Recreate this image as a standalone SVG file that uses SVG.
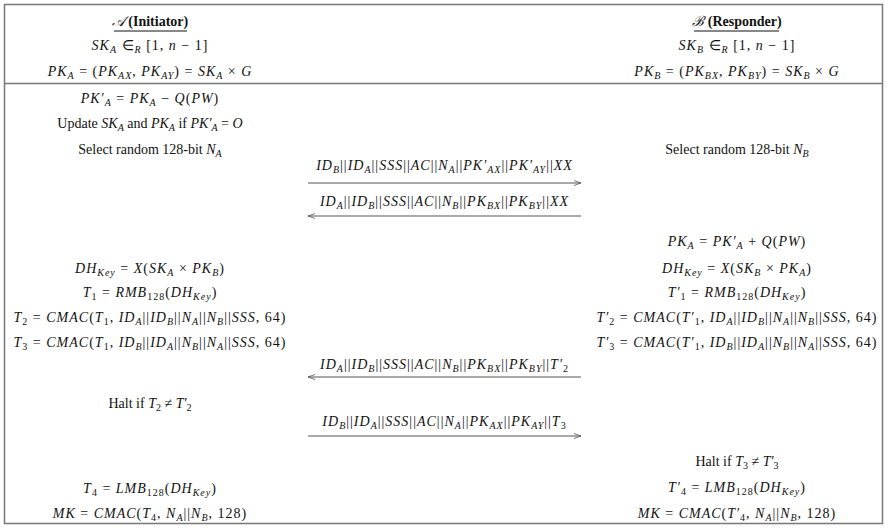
<svg xmlns="http://www.w3.org/2000/svg" width="889" height="531" viewBox="0 0 889 531">
<defs>
<style>
text{font-family:"Liberation Serif","Times New Roman",serif;font-size:14px;fill:#111;text-anchor:middle}
text.m{letter-spacing:1px}
.i{font-style:italic}
.bd{font-weight:bold}
.b{font-size:10px;baseline-shift:-3px}
.frame{fill:none;stroke:#777;stroke-width:1.5}
.msg{stroke:#555;stroke-width:1;fill:none}
</style>
<marker id="ah" markerWidth="8" markerHeight="6" refX="7" refY="3" orient="auto" markerUnits="userSpaceOnUse">
<path d="M0,0.5 L7,3 L0,5.5" fill="none" stroke="#555" stroke-width="0.8"/>
</marker>
</defs>
<rect width="889" height="531" fill="#fff"/>
<g id="frame">
<rect class="frame" x="4.5" y="4.5" width="878" height="519"/>
<line class="frame" x1="4.5" y1="83.5" x2="882.5" y2="83.5"/>
</g>
<g id="initiator">
<text x="150" y="26"><tspan class="i">𝒜</tspan> <tspan class="bd">(Initiator)</tspan></text>
<line x1="114" y1="31" x2="187" y2="31" stroke="#111" stroke-width="1"/>
<text class="m" x="150" y="50"><tspan class="i">SK</tspan><tspan class="b i">A</tspan> ∈<tspan class="b i">R</tspan> [1, <tspan class="i">n</tspan> − 1]</text>
<text class="m" x="150" y="76"><tspan class="i">PK</tspan><tspan class="b i">A</tspan> = (<tspan class="i">PK</tspan><tspan class="b i">AX</tspan>, <tspan class="i">PK</tspan><tspan class="b i">AY</tspan>) = <tspan class="i">SK</tspan><tspan class="b i">A</tspan> × <tspan class="i">G</tspan></text>
<text class="m" x="150" y="103"><tspan class="i">PK′</tspan><tspan class="b i">A</tspan> = <tspan class="i">PK</tspan><tspan class="b i">A</tspan> − <tspan class="i">Q</tspan>(<tspan class="i">PW</tspan>)</text>
<text x="150" y="128">Update <tspan class="i">SK</tspan><tspan class="b i">A</tspan> and <tspan class="i">PK</tspan><tspan class="b i">A</tspan> if <tspan class="i">PK′</tspan><tspan class="b i">A</tspan> = <tspan class="i">O</tspan></text>
<text x="150" y="154">Select random 128-bit <tspan class="i">N</tspan><tspan class="b i">A</tspan></text>
<text class="m" x="150" y="273"><tspan class="i">DH</tspan><tspan class="b i">Key</tspan> = <tspan class="i">X</tspan>(<tspan class="i">SK</tspan><tspan class="b i">A</tspan> × <tspan class="i">PK</tspan><tspan class="b i">B</tspan>)</text>
<text class="m" x="150" y="297"><tspan class="i">T</tspan><tspan class="b">1</tspan> = <tspan class="i">RMB</tspan><tspan class="b">128</tspan>(<tspan class="i">DH</tspan><tspan class="b i">Key</tspan>)</text>
<text class="m" x="150" y="322"><tspan class="i">T</tspan><tspan class="b">2</tspan> = <tspan class="i">CMAC</tspan>(<tspan class="i">T</tspan><tspan class="b">1</tspan>, <tspan class="i">ID</tspan><tspan class="b i">A</tspan>||<tspan class="i">ID</tspan><tspan class="b i">B</tspan>||<tspan class="i">N</tspan><tspan class="b i">A</tspan>||<tspan class="i">N</tspan><tspan class="b i">B</tspan>||<tspan class="i">SSS</tspan>, 64)</text>
<text class="m" x="150" y="347"><tspan class="i">T</tspan><tspan class="b">3</tspan> = <tspan class="i">CMAC</tspan>(<tspan class="i">T</tspan><tspan class="b">1</tspan>, <tspan class="i">ID</tspan><tspan class="b i">B</tspan>||<tspan class="i">ID</tspan><tspan class="b i">A</tspan>||<tspan class="i">N</tspan><tspan class="b i">B</tspan>||<tspan class="i">N</tspan><tspan class="b i">A</tspan>||<tspan class="i">SSS</tspan>, 64)</text>
<text x="150" y="408">Halt if <tspan class="i">T</tspan><tspan class="b">2</tspan> ≠ <tspan class="i">T′</tspan><tspan class="b">2</tspan></text>
<text class="m" x="150" y="493"><tspan class="i">T</tspan><tspan class="b">4</tspan> = <tspan class="i">LMB</tspan><tspan class="b">128</tspan>(<tspan class="i">DH</tspan><tspan class="b i">Key</tspan>)</text>
<text class="m" x="150" y="518"><tspan class="i">MK</tspan> = <tspan class="i">CMAC</tspan>(<tspan class="i">T</tspan><tspan class="b">4</tspan>, <tspan class="i">N</tspan><tspan class="b i">A</tspan>||<tspan class="i">N</tspan><tspan class="b i">B</tspan>, 128)</text>
</g>
<g id="responder">
<text x="737" y="26"><tspan class="i">ℬ</tspan> <tspan class="bd">(Responder)</tspan></text>
<line x1="694" y1="31" x2="779" y2="31" stroke="#111" stroke-width="1"/>
<text class="m" x="737" y="50"><tspan class="i">SK</tspan><tspan class="b i">B</tspan> ∈<tspan class="b i">R</tspan> [1, <tspan class="i">n</tspan> − 1]</text>
<text class="m" x="737" y="76"><tspan class="i">PK</tspan><tspan class="b i">B</tspan> = (<tspan class="i">PK</tspan><tspan class="b i">BX</tspan>, <tspan class="i">PK</tspan><tspan class="b i">BY</tspan>) = <tspan class="i">SK</tspan><tspan class="b i">B</tspan> × <tspan class="i">G</tspan></text>
<text x="737" y="154">Select random 128-bit <tspan class="i">N</tspan><tspan class="b i">B</tspan></text>
<text class="m" x="737" y="246"><tspan class="i">PK</tspan><tspan class="b i">A</tspan> = <tspan class="i">PK′</tspan><tspan class="b i">A</tspan> + <tspan class="i">Q</tspan>(<tspan class="i">PW</tspan>)</text>
<text class="m" x="737" y="273"><tspan class="i">DH</tspan><tspan class="b i">Key</tspan> = <tspan class="i">X</tspan>(<tspan class="i">SK</tspan><tspan class="b i">B</tspan> × <tspan class="i">PK</tspan><tspan class="b i">A</tspan>)</text>
<text class="m" x="737" y="297"><tspan class="i">T′</tspan><tspan class="b">1</tspan> = <tspan class="i">RMB</tspan><tspan class="b">128</tspan>(<tspan class="i">DH</tspan><tspan class="b i">Key</tspan>)</text>
<text class="m" x="737" y="322"><tspan class="i">T′</tspan><tspan class="b">2</tspan> = <tspan class="i">CMAC</tspan>(<tspan class="i">T′</tspan><tspan class="b">1</tspan>, <tspan class="i">ID</tspan><tspan class="b i">A</tspan>||<tspan class="i">ID</tspan><tspan class="b i">B</tspan>||<tspan class="i">N</tspan><tspan class="b i">A</tspan>||<tspan class="i">N</tspan><tspan class="b i">B</tspan>||<tspan class="i">SSS</tspan>, 64)</text>
<text class="m" x="737" y="347"><tspan class="i">T′</tspan><tspan class="b">3</tspan> = <tspan class="i">CMAC</tspan>(<tspan class="i">T′</tspan><tspan class="b">1</tspan>, <tspan class="i">ID</tspan><tspan class="b i">B</tspan>||<tspan class="i">ID</tspan><tspan class="b i">A</tspan>||<tspan class="i">N</tspan><tspan class="b i">B</tspan>||<tspan class="i">N</tspan><tspan class="b i">A</tspan>||<tspan class="i">SSS</tspan>, 64)</text>
<text x="737" y="466">Halt if <tspan class="i">T</tspan><tspan class="b">3</tspan> ≠ <tspan class="i">T′</tspan><tspan class="b">3</tspan></text>
<text class="m" x="737" y="492"><tspan class="i">T′</tspan><tspan class="b">4</tspan> = <tspan class="i">LMB</tspan><tspan class="b">128</tspan>(<tspan class="i">DH</tspan><tspan class="b i">Key</tspan>)</text>
<text class="m" x="737" y="518"><tspan class="i">MK</tspan> = <tspan class="i">CMAC</tspan>(<tspan class="i">T′</tspan><tspan class="b">4</tspan>, <tspan class="i">N</tspan><tspan class="b i">A</tspan>||<tspan class="i">N</tspan><tspan class="b i">B</tspan>, 128)</text>
</g>
<g id="connectors">
<text class="m" x="444.5" y="170"><tspan class="i">ID</tspan><tspan class="b i">B</tspan>||<tspan class="i">ID</tspan><tspan class="b i">A</tspan>||<tspan class="i">SSS</tspan>||<tspan class="i">AC</tspan>||<tspan class="i">N</tspan><tspan class="b i">A</tspan>||<tspan class="i">PK′</tspan><tspan class="b i">AX</tspan>||<tspan class="i">PK′</tspan><tspan class="b i">AY</tspan>||<tspan class="i">XX</tspan></text>
<line class="msg" x1="308" y1="183" x2="581" y2="183" marker-end="url(#ah)"/>
<text class="m" x="444.5" y="206"><tspan class="i">ID</tspan><tspan class="b i">A</tspan>||<tspan class="i">ID</tspan><tspan class="b i">B</tspan>||<tspan class="i">SSS</tspan>||<tspan class="i">AC</tspan>||<tspan class="i">N</tspan><tspan class="b i">B</tspan>||<tspan class="i">PK</tspan><tspan class="b i">BX</tspan>||<tspan class="i">PK</tspan><tspan class="b i">BY</tspan>||<tspan class="i">XX</tspan></text>
<line class="msg" x1="581" y1="216" x2="308" y2="216" marker-end="url(#ah)"/>
<text class="m" x="444.5" y="369"><tspan class="i">ID</tspan><tspan class="b i">A</tspan>||<tspan class="i">ID</tspan><tspan class="b i">B</tspan>||<tspan class="i">SSS</tspan>||<tspan class="i">AC</tspan>||<tspan class="i">N</tspan><tspan class="b i">B</tspan>||<tspan class="i">PK</tspan><tspan class="b i">BX</tspan>||<tspan class="i">PK</tspan><tspan class="b i">BY</tspan>||<tspan class="i">T′</tspan><tspan class="b">2</tspan></text>
<line class="msg" x1="581" y1="377" x2="308" y2="377" marker-end="url(#ah)"/>
<text class="m" x="444.5" y="426"><tspan class="i">ID</tspan><tspan class="b i">B</tspan>||<tspan class="i">ID</tspan><tspan class="b i">A</tspan>||<tspan class="i">SSS</tspan>||<tspan class="i">AC</tspan>||<tspan class="i">N</tspan><tspan class="b i">A</tspan>||<tspan class="i">PK</tspan><tspan class="b i">AX</tspan>||<tspan class="i">PK</tspan><tspan class="b i">AY</tspan>||<tspan class="i">T</tspan><tspan class="b">3</tspan></text>
<line class="msg" x1="308" y1="436" x2="581" y2="436" marker-end="url(#ah)"/>
</g>
</svg>
